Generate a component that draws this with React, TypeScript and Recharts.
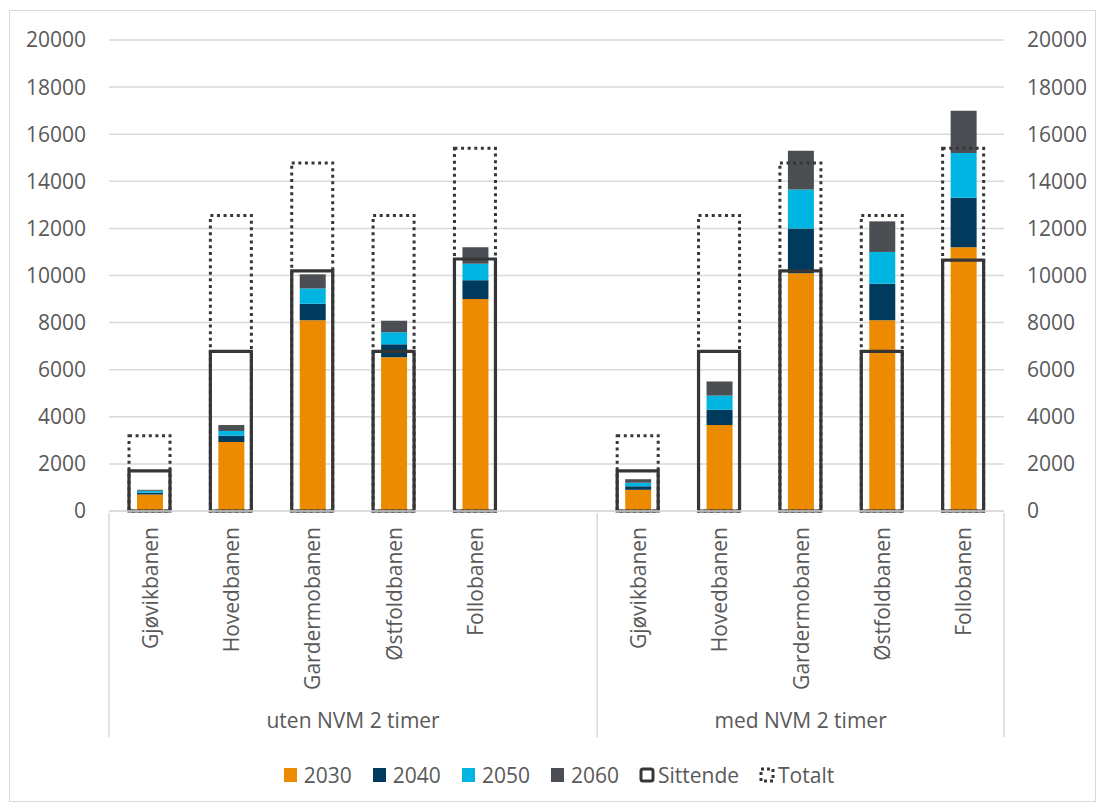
import { Bar, BarChart, CartesianGrid, XAxis, YAxis } from "recharts"

// categories (index 5 is the empty gap slot between the two groups)
const categories = [
  "Gjøvikbanen", "Hovedbanen", "Gardermobanen", "Østfoldbanen", "Follobanen", "",
  "Gjøvikbanen", "Hovedbanen", "Gardermobanen", "Østfoldbanen", "Follobanen",
]
const groups = ["uten NVM 2 timer", "med NVM 2 timer"]

// stacked increments per year
const v2030 = [700, 2930, 8100, 6530, 9000, null, 900, 3650, 10100, 8100, 11200]
const v2040 = [80, 270, 700, 550, 800, null, 150, 650, 1900, 1550, 2100]
const v2050 = [80, 200, 650, 510, 700, null, 150, 600, 1650, 1350, 1900]
const v2060 = [40, 250, 600, 490, 700, null, 150, 600, 1650, 1300, 1800]
const sittende = [1700, 6780, 10200, 6780, 10700, null, 1700, 6780, 10200, 6780, 10650]
const totalt = [3200, 12550, 14780, 12550, 15400, null, 3200, 12550, 14780, 12550, 15400]

const yTicks = [0, 2000, 4000, 6000, 8000, 10000, 12000, 14000, 16000, 18000, 20000]

const data = categories.map((name, i) => ({
  name: name || " ",
  y2030: v2030[i],
  y2040: v2040[i],
  y2050: v2050[i],
  y2060: v2060[i],
  sittende: sittende[i],
  totalt: totalt[i],
}))

const font = "'Open Sans', sans-serif"
const fs = 21
const textColor = "#595959"
const lineColor = "#d9d9d9"
const boxColor = "#363636"

const colors = { y2030: "#ED8B00", y2040: "#003A5D", y2050: "#00B5E2", y2060: "#4B4E53" }

function CategoryTick(props: any) {
  const { x, y, payload, index } = props
  const half = payload?.offset ?? 40.7
  const lineLen = 224
  return (
    <g>
      <text
        transform={`translate(${x},${y + 14}) rotate(-90)`}
        textAnchor="end"
        dominantBaseline="central"
        fontSize={fs}
        fontFamily={font}
        fill={textColor}
      >
        {payload.value.trim()}
      </text>
      {index === 0 && <line x1={x - half} x2={x - half} y1={y} y2={y + lineLen} stroke={lineColor} strokeWidth={1.5} />}
      {(index === 5 || index === 10) && (
        <line x1={x + half} x2={x + half} y1={y} y2={y + lineLen} stroke={lineColor} strokeWidth={1.5} />
      )}
      {index === 2 && (
        <text x={x + half} y={y + 207} textAnchor="middle" dominantBaseline="central" fontSize={fs} fontFamily={font} fill={textColor}>
          {groups[0]}
        </text>
      )}
      {index === 8 && (
        <text x={x} y={y + 207} textAnchor="middle" dominantBaseline="central" fontSize={fs} fontFamily={font} fill={textColor}>
          {groups[1]}
        </text>
      )}
    </g>
  )
}

const legendItems = [
  { label: "2030", kind: "fill", color: colors.y2030 },
  { label: "2040", kind: "fill", color: colors.y2040 },
  { label: "2050", kind: "fill", color: colors.y2050 },
  { label: "2060", kind: "fill", color: colors.y2060 },
  { label: "Sittende", kind: "box", color: boxColor },
  { label: "Totalt", kind: "dots", color: boxColor },
]

function ChartLegend() {
  return (
    <div
      style={{
        position: "absolute",
        top: 750,
        left: 0,
        width: 1085,
        display: "flex",
        justifyContent: "center",
        paddingLeft: 12,
        boxSizing: "border-box",
        fontFamily: font,
        fontSize: fs,
        color: textColor,
      }}
    >
      {legendItems.map((it, i) => (
        <div key={it.label} style={{ display: "flex", alignItems: "center", marginRight: i === legendItems.length - 1 ? 0 : 20 }}>
          <svg width={16} height={16} style={{ marginRight: it.kind === "fill" ? 5 : 3 }}>
            {it.kind === "fill" && <rect x={1} y={1} width={13} height={14} fill={it.color} />}
            {it.kind === "box" && <rect x={2} y={2} width={12} height={12} rx={2} fill="none" stroke={it.color} strokeWidth={3} />}
            {it.kind === "dots" && (
              <rect x={2} y={2} width={12} height={12} fill="none" stroke={it.color} strokeWidth={3} strokeDasharray="3 3" />
            )}
          </svg>
          <span>{it.label}</span>
        </div>
      ))}
    </div>
  )
}

export default function App() {
  return (
    <div
      style={{
        position: "absolute",
        left: 9,
        top: 10,
        width: 1085,
        height: 790,
        border: `1px solid ${lineColor}`,
        background: "#fff",
      }}
    >
      <BarChart width={1085} height={790} data={data} margin={{ top: 29, right: 0, left: 0, bottom: 0 }}>
        <CartesianGrid vertical={false} stroke={lineColor} strokeWidth={1.5} yAxisId="l" xAxisId="main" />
        <XAxis
          xAxisId="main"
          dataKey="name"
          height={290}
          interval={0}
          tickLine={false}
          tickSize={0}
          axisLine={{ stroke: lineColor, strokeWidth: 1.5 }}
          tick={<CategoryTick />}
        />
        <XAxis xAxisId="t" dataKey="name" hide />
        <XAxis xAxisId="s" dataKey="name" hide />
        <YAxis
          yAxisId="l"
          width={99}
          domain={[0, 20000]}
          ticks={yTicks}
          axisLine={false}
          tickLine={false}
          tickSize={0}
          tickMargin={23}
          tick={{ fill: textColor, fontSize: fs, fontFamily: font }}
        />
        <YAxis
          yAxisId="r"
          orientation="right"
          width={91}
          domain={[0, 20000]}
          ticks={yTicks}
          axisLine={false}
          tickLine={false}
          tickSize={0}
          tickMargin={23}
          tick={{ fill: textColor, fontSize: fs, fontFamily: font, textAnchor: "start" }}
        />
        <Bar xAxisId="main" yAxisId="l" dataKey="y2030" stackId="a" barSize={26} fill={colors.y2030} isAnimationActive={false} />
        <Bar xAxisId="main" yAxisId="l" dataKey="y2040" stackId="a" barSize={26} fill={colors.y2040} isAnimationActive={false} />
        <Bar xAxisId="main" yAxisId="l" dataKey="y2050" stackId="a" barSize={26} fill={colors.y2050} isAnimationActive={false} />
        <Bar xAxisId="main" yAxisId="l" dataKey="y2060" stackId="a" barSize={26} fill={colors.y2060} isAnimationActive={false} />
        <Bar
          xAxisId="t"
          yAxisId="r"
          dataKey="totalt"
          barSize={41}
          fill="none"
          stroke={boxColor}
          strokeWidth={3}
          strokeDasharray="3 3.6"
          isAnimationActive={false}
        />
        <Bar
          xAxisId="s"
          yAxisId="r"
          dataKey="sittende"
          barSize={41}
          fill="none"
          stroke={boxColor}
          strokeWidth={3.2}
          isAnimationActive={false}
        />
      </BarChart>
      <ChartLegend />
    </div>
  )
}
